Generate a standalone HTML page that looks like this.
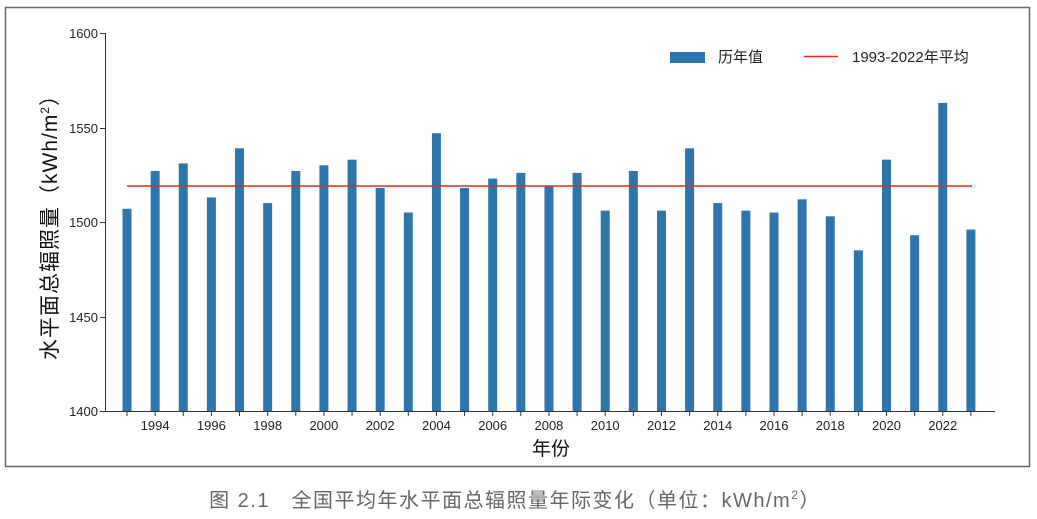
<!DOCTYPE html>
<html><head><meta charset="utf-8"><style>
body{margin:0;background:#fff;}
svg{display:block;font-family:"Liberation Sans","Noto Sans CJK SC",sans-serif;}
</style></head><body>
<svg width="1037" height="519" viewBox="0 0 1037 519">
<rect x="5.5" y="7.5" width="1024" height="459" fill="none" stroke="#666" stroke-width="1.5"/>
<g id="bars" fill="#2e75ab"></g>
<line x1="127" y1="186" x2="972" y2="186" stroke="#e8262b" stroke-width="1.5"/>
<line x1="105.5" y1="33" x2="105.5" y2="411.5" stroke="#333"/>
<line x1="105" y1="411.5" x2="995" y2="411.5" stroke="#333"/>
<g font-size="13" fill="#222" text-anchor="end">
<text x="98" y="38">1600</text><line x1="100" y1="33.5" x2="105" y2="33.5" stroke="#333"/>
<text x="98" y="133">1550</text><line x1="100" y1="128.5" x2="105" y2="128.5" stroke="#333"/>
<text x="98" y="227">1500</text><line x1="100" y1="222.5" x2="105" y2="222.5" stroke="#333"/>
<text x="98" y="322">1450</text><line x1="100" y1="317.5" x2="105" y2="317.5" stroke="#333"/>
<text x="98" y="416">1400</text><line x1="100" y1="411.5" x2="105" y2="411.5" stroke="#333"/>
</g>
<g id="xt" font-size="13" fill="#222" text-anchor="middle"></g>
<text x="551" y="455" font-size="19" text-anchor="middle" fill="#111">年份</text>
<text transform="translate(57,222) rotate(-90)" font-size="21" letter-spacing="1" text-anchor="middle" fill="#111">水平面总辐照量（kWh/m<tspan font-size="12" dy="-8">2</tspan><tspan dy="8">）</tspan></text>
<rect x="670" y="52" width="35" height="11" fill="#2e75ab"/>
<text x="718" y="62" font-size="15" fill="#222">历年值</text>
<line x1="804" y1="56.5" x2="838" y2="56.5" stroke="#e8262b" stroke-width="1.5"/>
<text x="852" y="62" font-size="15" fill="#222">1993-2022年平均</text>
<text x="515" y="507" font-size="20" letter-spacing="1.5" text-anchor="middle" fill="#666">图 2.1　全国平均年水平面总辐照量年际变化（单位：kWh/m<tspan font-size="12" dy="-8">2</tspan><tspan dy="8">）</tspan></text>
</svg>
<script>
var v=[1507,1527,1531,1513,1539,1510,1527,1530,1533,1518,1505,1547,1518,1523,1526,1519,1526,1506,1527,1506,1539,1510,1506,1505,1512,1503,1485,1533,1493,1563,1496];
var b=document.getElementById('bars'),t=document.getElementById('xt'),ns='http://www.w3.org/2000/svg';
for(var i=0;i<v.length;i++){var x=127+i*28.13,y=411-(v[i]-1400)*1.89;
var r=document.createElementNS(ns,'rect');r.setAttribute('x',x-4.5);r.setAttribute('y',y);r.setAttribute('width',9);r.setAttribute('height',411-y);b.appendChild(r);
var l=document.createElementNS(ns,'line');l.setAttribute('x1',x);l.setAttribute('x2',x);l.setAttribute('y1',411);l.setAttribute('y2',416);l.setAttribute('stroke','#333');t.appendChild(l);
if((1993+i)%2==0){var tx=document.createElementNS(ns,'text');tx.setAttribute('x',x);tx.setAttribute('y',430);tx.textContent=1993+i;t.appendChild(tx);}}
</script>
</body></html>
